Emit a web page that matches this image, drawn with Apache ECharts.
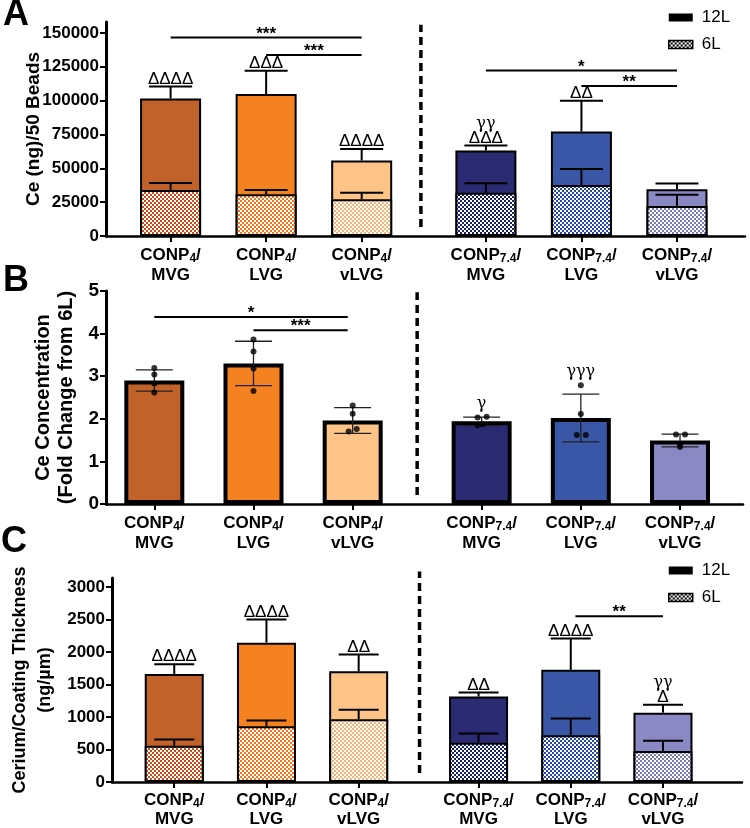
<!DOCTYPE html>
<html><head><meta charset="utf-8">
<script src="https://cdn.jsdelivr.net/npm/echarts@6/dist/echarts.min.js"></script>
<style>html,body{margin:0;padding:0;background:#fff}#c{width:750px;height:828px}</style>
</head><body><div id="c"></div>
<script>
// ---------- categories ----------
const catSub = ['4','4','4','7.4','7.4','7.4'];
const catGroup = ['MVG','LVG','vLVG','MVG','LVG','vLVG'];
const xPos = [1,2,3,4.3,5.3,6.3];
const barColors = ['#C1622A','#F58220','#FDC387','#2B2B73','#3A56A6','#8B89C4'];
const patColors = ['#CC4A14','#F6751A','#FDB370','#1A1F6E','#2848A8','#7C7AC0'];

// ---------- panel A: Ce (ng)/50 beads ----------
const a12 = [101500,104800,55700,63100,77100,34500];
const a12sd = [8900,17200,8600,3700,22700,4200];
const a6 = [34000,30800,27100,32000,37700,22200];
const a6sd = [5200,3200,4900,7000,11800,8300];
const aTicks = [0,25000,50000,75000,100000,125000,150000];
const aMarks = ['ΔΔΔΔ','ΔΔΔ','ΔΔΔΔ','γγ\nΔΔΔ','ΔΔ',''];
const aSigFrom = [1,2,4.3,5.3];
const aSigTo = [3,3,6.3,6.3];
const aSigY = [146500,133700,122100,110800];
const aSigText = ['***','***','*','**'];

// ---------- panel B: fold change ----------
const bMean = [2.90,3.30,1.96,1.94,2.02,1.49];
const bSd = [0.25,0.52,0.30,0.10,0.56,0.15];
const bDots = [
  [3.19,3.04,2.83,2.62],
  [3.86,3.58,3.18,2.65],
  [2.31,2.12,1.70,1.76],
  [2.03,2.05,1.85,1.87],
  [2.79,2.11,1.62,1.62],
  [1.63,1.63,1.34,1.40]
];
const bDotJitter = [[0,0,0,0],[0,0,0,0],[0,0,-4,4],[-4,5,-4,1],[0,0,-4,5],[-4,5,0,0]];
const bTicks = [0,1,2,3,4,5];
const bMarks = ['','','','γ','γγγ',''];
const bSigFrom = [1,2];
const bSigTo = [2.95,2.95];
const bSigY = [4.39,4.08];
const bSigText = ['*','***'];

// ---------- panel C: cerium / coating thickness ----------
const c12 = [1662,2145,1703,1316,1727,1067];
const c12sd = [152,355,259,60,483,122];
const c6 = [559,858,965,605,721,477];
const c6sd = [96,87,148,142,255,159];
const cTicks = [0,500,1000,1500,2000,2500,3000];
const cMarks = ['ΔΔΔΔ','ΔΔΔΔ','ΔΔ','ΔΔ','ΔΔΔΔ','γγ\nΔ'];
const cSigFrom = [5.35];
const cSigTo = [6.3];
const cSigY = [2551];
const cSigText = ['**'];

// separator lines [x, yFrom, yTo] in data units
const aSep = [3.62, 6600, 155900];
const bSep = [3.65, 0.21, 4.97];
const cSep = [3.66, 137, 3240];

const FONT = '"Liberation Sans", Arial, sans-serif';

function makePattern(color){
  const c = document.createElement('canvas');
  c.width = 4; c.height = 4;
  const g = c.getContext('2d');
  g.fillStyle = '#fff'; g.fillRect(0,0,4,4);
  g.fillStyle = color; g.fillRect(0,0,2,2); g.fillRect(2,2,2,2);
  return {image: c, repeat: 'repeat'};
}
const pats = patColors.map(makePattern);
const blackPat = makePattern('#000');

function idxOf(v){ for(let i=0;i<xPos.length;i++){ if(Math.abs(xPos[i]-v)<1e-6) return i; } return -1; }

function xAxisCfg(gi, min, max, fs, lh, margin){
  return {
    type:'value', gridIndex:gi, min, max,
    axisLine:{show:true, onZero:false, lineStyle:{color:'#000', width:2.5}},
    splitLine:{show:false},
    axisTick:{show:true, customValues:xPos, length:6, lineStyle:{color:'#000', width:2}},
    axisLabel:{
      customValues:xPos, margin, interval:0,
      formatter:function(v){ const i=idxOf(v); if(i<0) return '';
        return '{b|CONP}{s|'+catSub[i]+'}{b|/}\n{b|'+catGroup[i]+'}'; },
      rich:{
        b:{fontSize:fs, fontWeight:'bold', fontFamily:FONT, color:'#000', lineHeight:lh},
        s:{fontSize:Math.round(fs*0.68), fontWeight:'bold', fontFamily:FONT, color:'#000', lineHeight:lh, verticalAlign:'bottom'}
      }
    }
  };
}
function yAxisCfg(gi, max, ticks, fs, name, nfs, nlh, ngap){
  return {
    type:'value', gridIndex:gi, min:0, max,
    name, nameLocation:'middle', nameGap:ngap, nameMoveOverlap:false,
    nameTextStyle:{fontSize:nfs, fontWeight:'bold', fontFamily:FONT, color:'#000', lineHeight:nlh, align:'center'},
    axisLine:{show:true, lineStyle:{color:'#000', width:3}},
    splitLine:{show:false},
    axisTick:{show:true, customValues:ticks, length:6, lineStyle:{color:'#000', width:2}},
    axisLabel:{customValues:ticks, margin:7, fontSize:fs, fontWeight:'bold', fontFamily:FONT, color:'#000',
      formatter:function(v){ return String(v); }}
  };
}

function barSeries(name, vals, gi, bw, border, patterned){
  return {
    type:'bar', name, xAxisIndex:gi, yAxisIndex:gi, barWidth:bw, barGap:'-100%',
    data: vals.map((v,i)=>({value:[xPos[i], v], itemStyle:{color: patterned ? pats[i] : barColors[i]}})),
    itemStyle:{borderColor:'#000', borderWidth:border},
    emphasis:{disabled:true}, z:2, animation:false
  };
}
function errSeries(vals, sds, gi, capW, lw, both, color, z){
  return {
    type:'custom', xAxisIndex:gi, yAxisIndex:gi, z:z||4, clip:false, animation:false,
    data: vals.map((v,i)=>[xPos[i], v, sds[i]]),
    renderItem:function(params, api){
      const x=api.value(0), v=api.value(1), sd=api.value(2);
      const t=api.coord([x, v+sd]); const b=api.coord([x, both ? v-sd : v]);
      const st={stroke:color, lineWidth:lw};
      const ch=[
        {type:'line', shape:{x1:t[0],y1:t[1],x2:b[0],y2:b[1]}, style:st},
        {type:'line', shape:{x1:t[0]-capW/2,y1:t[1],x2:t[0]+capW/2,y2:t[1]}, style:st}
      ];
      if(both) ch.push({type:'line', shape:{x1:b[0]-capW/2,y1:b[1],x2:b[0]+capW/2,y2:b[1]}, style:st});
      return {type:'group', children:ch};
    }
  };
}
function markSeries(anchors, marks, gi, off){
  return {
    type:'custom', xAxisIndex:gi, yAxisIndex:gi, z:6, clip:false, animation:false,
    data: anchors.map((v,i)=>[xPos[i], v]),
    renderItem:function(params, api){
      const m = marks[params.dataIndex]; if(!m) return null;
      const p = api.coord([api.value(0), api.value(1)]);
      const lines = m.split('\n');
      const ch = [];
      for(let k=0;k<lines.length;k++){
        const isG = lines[k].indexOf('γ')>=0;
        ch.push({type:'text', x:p[0], y:p[1]-off-(lines.length-1-k)*15,
          style:{text:lines[k], fill:'#000', align:'center', verticalAlign:'bottom',
            fontSize: isG?16:17, fontFamily: isG ? '"DejaVu Serif", serif' : FONT}});
      }
      return {type:'group', children:ch};
    }
  };
}
function sigSeries(from, to, ys, texts, gi){
  return {
    type:'custom', xAxisIndex:gi, yAxisIndex:gi, z:6, clip:false, animation:false,
    data: from.map((f,i)=>[f, to[i], ys[i]]),
    renderItem:function(params, api){
      const p1 = api.coord([api.value(0), api.value(2)]);
      const p2 = api.coord([api.value(1), api.value(2)]);
      return {type:'group', children:[
        {type:'line', shape:{x1:p1[0],y1:p1[1],x2:p2[0],y2:p2[1]}, style:{stroke:'#000', lineWidth:2}},
        {type:'text', x:(p1[0]+p2[0])/2, y:p1[1]+5, style:{text:texts[params.dataIndex], fill:'#000', align:'center', verticalAlign:'bottom', fontSize:17, fontWeight:'bold', fontFamily:FONT}}
      ]};
    }
  };
}
function sepSeries(sep, gi){
  return {
    type:'custom', xAxisIndex:gi, yAxisIndex:gi, z:3, clip:false, animation:false,
    data:[sep],
    renderItem:function(params, api){
      const p1 = api.coord([api.value(0), api.value(1)]);
      const p2 = api.coord([api.value(0), api.value(2)]);
      return {type:'line', shape:{x1:p1[0],y1:p1[1],x2:p2[0],y2:p2[1]}, style:{stroke:'#000', lineWidth:3.5, lineDash:[8,5]}};
    }
  };
}

const dotData = [];
bDots.forEach((arr,i)=>arr.forEach((d,k)=>dotData.push({value:[xPos[i], d], symbolOffset:[bDotJitter[i][k],0]})));
const bAnchor = bMean.map((m,i)=>Math.max(m+bSd[i], ...bDots[i]));
const aAnchor = a12.map((v,i)=>v+a12sd[i]);
const cAnchor = c12.map((v,i)=>v+c12sd[i]);

function legendCfg(top){
  return {
    left:668, top, orient:'vertical', itemWidth:24, itemHeight:8, itemGap:10, padding:0,
    selectedMode:false,
    textStyle:{fontSize:17, fontFamily:FONT, color:'#000', padding:[0,0,0,4]},
    data:[
      {name:'12L', icon:'rect', itemStyle:{color:'#000', borderWidth:0}},
      {name:'6L', icon:'rect', itemStyle:{color:blackPat, borderColor:'#000', borderWidth:1.5}}
    ]
  };
}

const option = {
  backgroundColor:'#fff',
  animation:false,
  title:[
    {text:'A', left:3, top:-3, padding:0, textStyle:{fontSize:36, fontWeight:900, fontFamily:FONT, color:'#000'}},
    {text:'B', left:3, top:263, padding:0, textStyle:{fontSize:36, fontWeight:900, fontFamily:FONT, color:'#000'}},
    {text:'C', left:1, top:524, padding:0, textStyle:{fontSize:36, fontWeight:900, fontFamily:FONT, color:'#000'}}
  ],
  legend:[legendCfg(9), legendCfg(562)],
  grid:[
    {left:106, top:22, width:639, height:214},
    {left:106, top:291, width:637, height:213},
    {left:102, top:578, width:640, height:206}
  ],
  xAxis:[
    xAxisCfg(0, 0.324, 7.012, 17, 20, 9),
    xAxisCfg(1, 0.513, 6.935, 17, 20, 9),
    xAxisCfg(2, 0.325, 7.157, 17, 19, 9)
  ],
  yAxis:[
    yAxisCfg(0, 158000, aTicks, 17, 'Ce (ng)/50 Beads', 19, 23, 61),
    yAxisCfg(1, 5, bTicks, 19, 'Ce Concentration\n(Fold Change from 6L)', 20, 23, 28),
    yAxisCfg(2, 3140, cTicks, 17, 'Cerium/Coating Thickness\n(ng/\u00b5m)', 18, 25, 54)
  ],
  series:[
    barSeries('12L', a12, 0, 61, 2, false),
    barSeries('6L', a6, 0, 61, 2, true),
    errSeries(a12, a12sd, 0, 43, 2, false, '#000'),
    errSeries(a6, a6sd, 0, 43, 2, false, '#000'),
    markSeries(aAnchor, aMarks, 0, -1),
    sigSeries(aSigFrom, aSigTo, aSigY, aSigText, 0),
    sepSeries(aSep, 0),

    {type:'bar', name:'Fold change', xAxisIndex:1, yAxisIndex:1, barWidth:60,
      data:bMean.map((v,i)=>({value:[xPos[i], v], itemStyle:{color:barColors[i]}})),
      itemStyle:{borderColor:'#000', borderWidth:4}, emphasis:{disabled:true}, z:2},
    errSeries(bMean, bSd, 1, 37, 1.3, true, '#222', 4),
    {type:'scatter', name:'Replicates', xAxisIndex:1, yAxisIndex:1, symbol:'circle', symbolSize:6,
      itemStyle:{color:'#000'}, data:dotData, z:5, emphasis:{disabled:true}},
    markSeries(bAnchor, bMarks, 1, 5),
    sigSeries(bSigFrom, bSigTo, bSigY, bSigText, 1),
    sepSeries(bSep, 1),

    barSeries('12L', c12, 2, 59, 2, false),
    barSeries('6L', c6, 2, 59, 2, true),
    errSeries(c12, c12sd, 2, 40, 2, false, '#000'),
    errSeries(c6, c6sd, 2, 40, 2, false, '#000'),
    markSeries(cAnchor, cMarks, 2, -1),
    sigSeries(cSigFrom, cSigTo, cSigY, cSigText, 2),
    sepSeries(cSep, 2)
  ]
};
const chart = echarts.init(document.getElementById('c'), null, {renderer:'canvas'});
chart.setOption(option);
</script>
</body></html>
